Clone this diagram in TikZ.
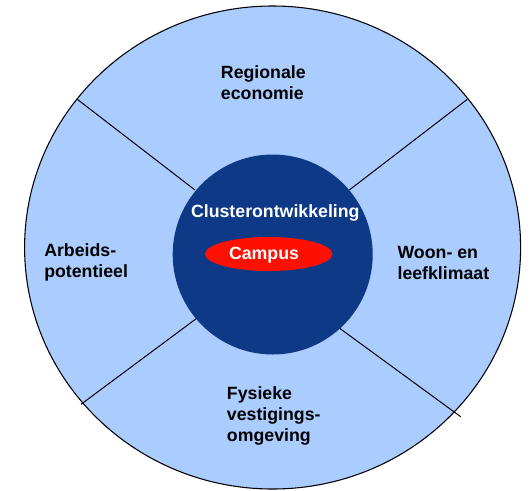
\documentclass[tikz,border=0pt]{standalone}
\usepackage{fontspec}
\setmainfont{Liberation Sans}
\usetikzlibrary{shapes.geometric}
\definecolor{lightb}{RGB}{170,204,255}
\definecolor{darkb}{RGB}{13,57,135}
\definecolor{campred}{RGB}{255,16,0}
\tikzset{
  lbl/.style={inner sep=0pt, align=left, anchor=west, text=black,
    font=\fontsize{13.3}{15.75}\selectfont\bfseries},
  wlbl/.style={inner sep=0pt, text=white,
    font=\fontsize{13.3}{15.75}\selectfont\bfseries},
  divider/.style={draw=black, line width=0.75pt}
}
\begin{document}
\begin{tikzpicture}[x=0.75pt,y=-0.75pt]
\useasboundingbox (0,0) rectangle (531,490);
\node (outer) [ellipse, draw=black, line width=0.8pt, fill=lightb, inner sep=0pt,
  minimum width=372pt, minimum height=362.25pt] at (272.6,247.5) {};
\coordinate (ulo) at (77.3,99.3);
\coordinate (uli) at (195,190);
\coordinate (uro) at (467.3,99.3);
\coordinate (uri) at (349.3,190);
\coordinate (llo) at (81,404.3);
\coordinate (lli) at (196.7,318.3);
\coordinate (lro) at (460.7,416.7);
\coordinate (lri) at (338.3,327.3);
\draw[divider] (ulo) -- (uli);
\draw[divider] (uro) -- (uri);
\draw[divider] (llo) -- (lli);
\draw[divider] (lro) -- (lri);
\node (hub) [circle, fill=darkb, inner sep=0pt, minimum size=150pt] at (272.7,254.5) {};
\node (campus) [ellipse, fill=campred, inner sep=0pt, minimum width=95.5pt, minimum height=25.5pt] at (268.7,254) {};
\node (cl) [wlbl] at (275.3,213) {Clusterontwikkeling};
\node (cp) [wlbl] at (264,255) {Campus};
\node (re) [lbl] at (220.7,82.5) {Regionale\\economie};
\node (ap) [lbl] at (44,262.5) {Arbeids-\\potentieel};
\node (wl) [lbl] at (397.3,262.5) {Woon- en\\leefklimaat};
\node (fv) [lbl] at (226.7,416) {Fysieke\\vestigings-\\omgeving};
\end{tikzpicture}
\end{document}
